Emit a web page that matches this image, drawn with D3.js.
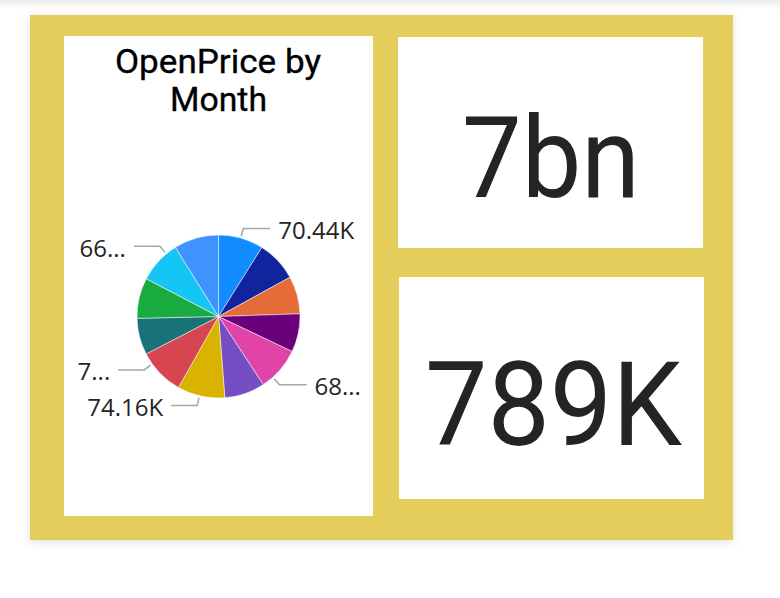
<!DOCTYPE html>
<html>
<head>
<meta charset="utf-8">
<script src="https://cdn.jsdelivr.net/npm/d3@7"></script>
<style>
  html, body { margin: 0; padding: 0; background: #ffffff; }
  svg { display: block; }
</style>
</head>
<body>
<svg id="chart" width="780" height="598"></svg>
<script>
// ---- Data ----
const months = ["January","February","March","April","May","June","July","August","September","October","November","December"];
const openPrice = [70.44, 63.8, 58.95, 59.8, 68.5, 63.3, 74.16, 72.8, 57.2, 63.3, 66.9, 69.9];
const sliceColors = ["#118DFF","#12239E","#E66C37","#6B007B","#E044A7","#744EC2","#D9B300","#D64550","#197278","#1AAB40","#15C6F4","#4092FF"];
const labelText = ["70.44K", null, null, null, "68...", null, "74.16K", "7...", null, null, "66...", null];
// where along each labelled slice the leader line starts (fraction of the slice's angle)
const labelAnchor = [0.49, 0, 0, 0, 0.73, 0, 0.53, 0.75, 0, 0, 0.74, 0];
const chartTitle = ["OpenPrice by", "Month"];
const cardValues = ["7bn", "789K"];

const svg = d3.select("#chart");

// top grey strip
const defs = svg.append("defs");
const g1 = defs.append("linearGradient").attr("id","topg").attr("x1",0).attr("y1",0).attr("x2",0).attr("y2",1);
g1.append("stop").attr("offset","0%").attr("stop-color","#ececec");
g1.append("stop").attr("offset","100%").attr("stop-color","#ffffff");
svg.append("rect").attr("x",0).attr("y",0).attr("width",780).attr("height",9).attr("fill","url(#topg)");

const filt = defs.append("filter").attr("id","shadow").attr("x","-10%").attr("y","-10%").attr("width","120%").attr("height","120%");
filt.append("feDropShadow").attr("dx",0).attr("dy",2).attr("stdDeviation",5).attr("flood-color","#000").attr("flood-opacity",0.12);

// gold frame
svg.append("rect").attr("x",30).attr("y",15).attr("width",703).attr("height",525)
  .attr("fill","#E5CD5C").attr("filter","url(#shadow)");

// panels
svg.append("rect").attr("x",64).attr("y",36).attr("width",309).attr("height",480).attr("fill","#ffffff");
svg.append("rect").attr("x",398).attr("y",37).attr("width",305).attr("height",211).attr("fill","#ffffff");
svg.append("rect").attr("x",399).attr("y",277).attr("width",305).attr("height",222).attr("fill","#ffffff");

// title
const titleFont = "Roboto, 'DejaVu Sans', sans-serif";
svg.append("text").attr("x",218).attr("y",72.5).attr("text-anchor","middle")
  .attr("font-family",titleFont).attr("font-weight",400).attr("font-size",34).attr("fill","#000")
  .attr("stroke","#000").attr("stroke-width",0.35)
  .attr("textLength",206).attr("lengthAdjust","spacingAndGlyphs").text(chartTitle[0]);
svg.append("text").attr("x",218.5).attr("y",111).attr("text-anchor","middle")
  .attr("font-family",titleFont).attr("font-weight",400).attr("font-size",34).attr("fill","#000")
  .attr("stroke","#000").attr("stroke-width",0.35)
  .attr("textLength",97).attr("lengthAdjust","spacingAndGlyphs").text(chartTitle[1]);

// pie
const cx = 218.5, cy = 316.5, R = 81.5;
const pie = d3.pie().sort(null).value(d => d)(openPrice);
const arc = d3.arc().innerRadius(0).outerRadius(R);
const pg = svg.append("g").attr("transform",`translate(${cx},${cy})`);
pg.selectAll("path").data(pie).join("path")
  .attr("d", arc).attr("fill",(d,i)=>sliceColors[i])
  .attr("stroke","#ffffff").attr("stroke-width",0.5);

// labels with leader lines
const labelFont = "'Open Sans', 'Noto Sans', sans-serif";
pie.forEach((d,i) => {
  if (!labelText[i]) return;
  const a = d.startAngle + (d.endAngle - d.startAngle) * labelAnchor[i];
  const right = Math.sin(a) >= 0;
  const p0 = [cx + Math.sin(a)*(R+2), cy - Math.cos(a)*(R+2)];
  const p1 = [cx + Math.sin(a)*(R+10), cy - Math.cos(a)*(R+10)];
  const p2 = [p1[0] + (right ? 27 : -26), p1[1]];
  svg.append("polyline").attr("points",[p0,p1,p2].map(p=>p.join(",")).join(" "))
    .attr("fill","none").attr("stroke","#a6a6a6").attr("stroke-width",1.5);
  svg.append("text").attr("x", p2[0] + (right ? 8 : -8)).attr("y", p2[1])
    .attr("dy","0.43em").attr("text-anchor", right ? "start" : "end")
    .attr("font-family",labelFont).attr("font-size",24).attr("fill","#252423")
    .text(labelText[i]);
});

// cards
const cardFont = "Roboto, 'DejaVu Sans', sans-serif";
svg.append("text").attr("x",551).attr("y",196.5).attr("text-anchor","middle")
  .attr("font-family",cardFont).attr("font-size",114).attr("fill","#252423")
  .attr("textLength",178).attr("lengthAdjust","spacingAndGlyphs").text(cardValues[0]);
svg.append("text").attr("x",553.5).attr("y",445).attr("text-anchor","middle")
  .attr("font-family",cardFont).attr("font-size",116).attr("fill","#252423")
  .attr("textLength",257).attr("lengthAdjust","spacingAndGlyphs").text(cardValues[1]);
</script>
</body>
</html>
